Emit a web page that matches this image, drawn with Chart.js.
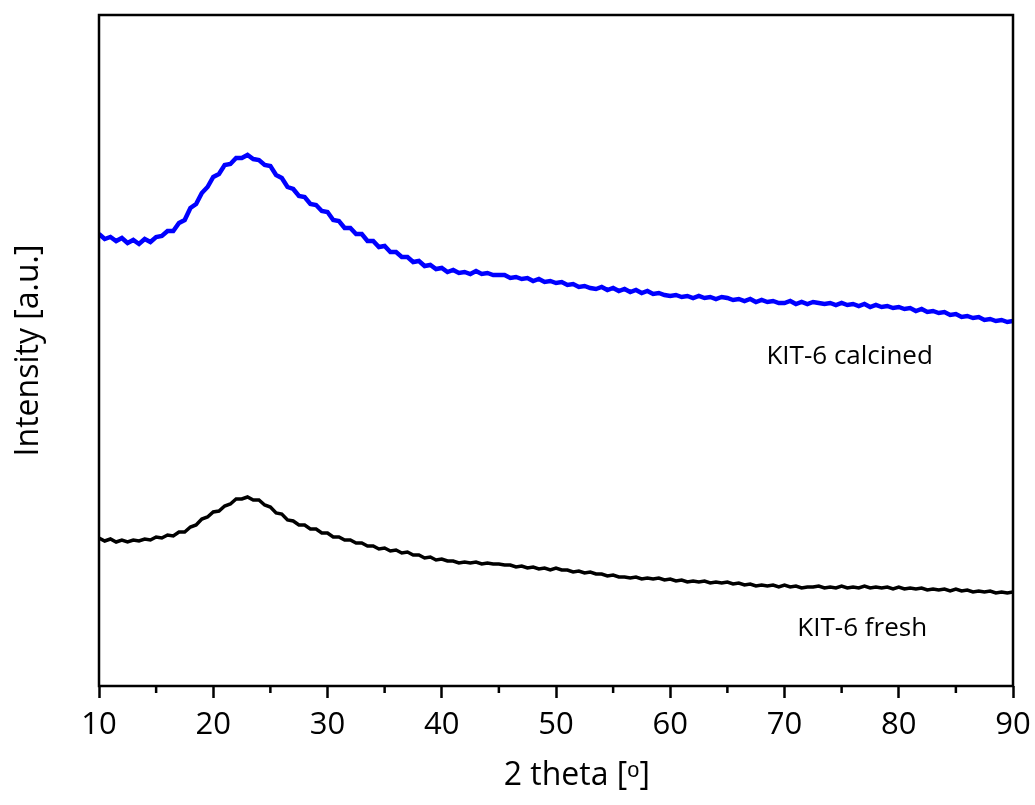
<!DOCTYPE html>
<html>
<head>
<meta charset="utf-8">
<script src="https://cdn.jsdelivr.net/npm/chart.js@4.4.1/dist/chart.umd.min.js"></script>
<style>
  html, body { margin: 0; padding: 0; background: #fff; }
</style>
</head>
<body>
<canvas id="xrdChart" width="1035" height="805"></canvas>
<script>
// 2 theta positions (deg), one reading every 0.5 deg
const twoTheta = [
  10, 10.5, 11, 11.5, 12, 12.5, 13, 13.5, 14, 14.5,
  15, 15.5, 16, 16.5, 17, 17.5, 18, 18.5, 19, 19.5,
  20, 20.5, 21, 21.5, 22, 22.5, 23, 23.5, 24, 24.5,
  25, 25.5, 26, 26.5, 27, 27.5, 28, 28.5, 29, 29.5,
  30, 30.5, 31, 31.5, 32, 32.5, 33, 33.5, 34, 34.5,
  35, 35.5, 36, 36.5, 37, 37.5, 38, 38.5, 39, 39.5,
  40, 40.5, 41, 41.5, 42, 42.5, 43, 43.5, 44, 44.5,
  45, 45.5, 46, 46.5, 47, 47.5, 48, 48.5, 49, 49.5,
  50, 50.5, 51, 51.5, 52, 52.5, 53, 53.5, 54, 54.5,
  55, 55.5, 56, 56.5, 57, 57.5, 58, 58.5, 59, 59.5,
  60, 60.5, 61, 61.5, 62, 62.5, 63, 63.5, 64, 64.5,
  65, 65.5, 66, 66.5, 67, 67.5, 68, 68.5, 69, 69.5,
  70, 70.5, 71, 71.5, 72, 72.5, 73, 73.5, 74, 74.5,
  75, 75.5, 76, 76.5, 77, 77.5, 78, 78.5, 79, 79.5,
  80, 80.5, 81, 81.5, 82, 82.5, 83, 83.5, 84, 84.5,
  85, 85.5, 86, 86.5, 87, 87.5, 88, 88.5, 89, 89.5,
  90
];

// KIT-6 calcined (blue), offset intensity in a.u.
const calcined = [
  452, 447, 449, 445, 448, 443, 446, 442, 447, 444,
  449, 450, 455, 455, 463, 466, 478, 482, 493, 499,
  509, 512, 521, 522, 528, 528, 531, 527, 526, 521,
  520, 511, 508, 499, 497, 490, 489, 482, 481, 475,
  474, 466, 465, 458, 458, 452, 452, 445, 445, 439,
  440, 434, 434, 429, 429, 424, 425, 420, 421, 417,
  418, 414, 416, 413, 414, 412, 415, 412, 413, 411,
  411, 411, 408, 409, 407, 408, 405, 407, 404, 405,
  403, 404, 401, 402, 399, 400, 398, 397, 399, 396,
  398, 395, 397, 394, 396, 393, 395, 392, 393, 391,
  390, 391, 389, 390, 388, 390, 388, 389, 387, 389,
  388, 386, 387, 385, 387, 384, 386, 384, 385, 383,
  383, 385, 382, 384, 382, 384, 383, 382, 383, 381,
  383, 381, 382, 380, 382, 379, 381, 379, 380, 378,
  379, 377, 378, 375, 377, 374, 375, 373, 374, 371,
  372, 369, 370, 368, 369, 366, 367, 365, 366, 364,
  365
];

// KIT-6 fresh (black)
const fresh = [
  148, 145, 147, 144, 146, 144, 146, 145, 147, 146,
  149, 148, 151, 150, 154, 154, 159, 161, 167, 169,
  174, 175, 180, 182, 187, 187, 189, 186, 186, 181,
  179, 173, 172, 166, 165, 161, 161, 157, 157, 153,
  153, 149, 149, 146, 146, 143, 143, 140, 140, 137,
  138, 135, 136, 133, 134, 131, 131, 128, 129, 126,
  127, 125, 125, 123, 124, 123, 124, 122, 123, 122,
  122, 121, 121, 119, 120, 118, 119, 117, 118, 116,
  118, 116, 116, 114, 115, 113, 114, 112, 112, 110,
  111, 109, 109, 108, 109, 107, 108, 107, 108, 106,
  107, 105, 106, 104, 105, 104, 105, 103, 104, 103,
  104, 102, 103, 101, 102, 100, 101, 100, 101, 99,
  101, 99, 100, 98, 99, 99, 100, 98, 99, 98,
  100, 98, 99, 98, 100, 98, 99, 98, 99, 97,
  99, 97, 98, 97, 98, 96, 97, 96, 97, 95,
  97, 95, 96, 94, 95, 94, 95, 93, 94, 93,
  94
];

// curve labels: text, 2theta, intensity
const curveLabels = [
  { text: "KIT-6 calcined", x: 75.7, y: 329 },
  { text: "KIT-6 fresh", x: 76.8, y: 57 }
];

const minorTicks = [15, 25, 35, 45, 55, 65, 75, 85];

const fontName = "'Open Sans', sans-serif";

// frame, minor ticks and curve labels
const framePlugin = {
  id: "frame",
  afterDraw(chart) {
    const { ctx, chartArea: a, scales } = chart;
    ctx.save();
    ctx.strokeStyle = "#000";
    ctx.lineWidth = 2.5;
    ctx.strokeRect(a.left, a.top, a.right - a.left, a.bottom - a.top);

    ctx.beginPath();
    minorTicks.forEach((v) => {
      const px = scales.x.getPixelForValue(v);
      ctx.moveTo(px, a.bottom);
      ctx.lineTo(px, a.bottom + 7);
    });
    ctx.stroke();

    ctx.fillStyle = "#000";
    ctx.font = "26px " + fontName;
    ctx.textAlign = "center";
    ctx.textBaseline = "middle";
    curveLabels.forEach((l) => {
      ctx.fillText(l.text, scales.x.getPixelForValue(l.x), scales.y.getPixelForValue(l.y));
    });
    ctx.restore();
  },
};

const ctx = document.getElementById("xrdChart").getContext("2d");
const xrdChart = new Chart(ctx, {
  type: "line",
  data: {
    labels: twoTheta,
    datasets: [
      {
        label: "KIT-6 calcined",
        data: calcined,
        borderColor: "#0000ff",
        borderWidth: 4.5,
        pointRadius: 0,
        tension: 0,
      },
      {
        label: "KIT-6 fresh",
        data: fresh,
        borderColor: "#000000",
        borderWidth: 3.5,
        pointRadius: 0,
        tension: 0,
      },
    ],
  },
  options: {
    responsive: false,
    animation: false,
    devicePixelRatio: 1,
    layout: { padding: { left: 0, right: 22, top: 15, bottom: 0 } },
    plugins: {
      legend: { display: false },
      tooltip: { enabled: false },
    },
    scales: {
      x: {
        type: "linear",
        min: 10,
        max: 90,
        border: { display: false },
        grid: {
          drawOnChartArea: false,
          tickLength: 12,
          tickWidth: 2.5,
          tickColor: (c) => (c.tick && c.tick.value % 10 === 0 ? "#000" : "rgba(0,0,0,0)"),
        },
        ticks: {
          stepSize: 5,
          autoSkip: false,
          maxRotation: 0,
          padding: 9,
          color: "#000",
          font: { family: fontName, size: 31 },
          callback: (v) => (v % 10 === 0 ? String(v) : ""),
        },
        title: {
          display: true,
          text: "     2 theta [ᵒ]",
          color: "#000",
          font: { family: fontName, size: 32 },
          padding: { top: 0, bottom: 10 },
        },
        afterFit: (scale) => {
          scale.height = 119;
          scale.paddingLeft = 0;
          scale.paddingRight = 0;
        },
      },
      y: {
        min: 0,
        max: 671,
        border: { display: false },
        grid: { display: false },
        ticks: { display: false },
        title: {
          display: true,
          text: "Intensity [a.u.]",
          color: "#000",
          font: { family: fontName, size: 32 },
          padding: { top: 10, bottom: 0 },
        },
        afterFit: (scale) => {
          scale.width = 99;
        },
      },
    },
  },
  plugins: [framePlugin],
});
</script>
</body>
</html>
